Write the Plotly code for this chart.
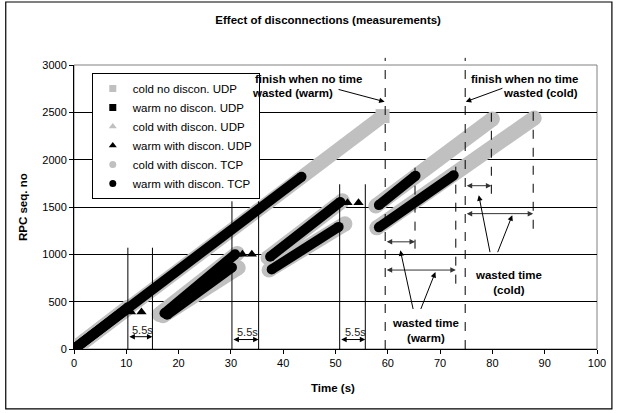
import plotly.graph_objects as go

FONT = "Arial, 'Liberation Sans', sans-serif"
GRAY = "#C0C0C0"
BLACK = "#000000"

# ---------------- data (time in s, RPC sequence number) ----------------
cold_nodis_udp_t = [0.0, 59.0]
cold_nodis_udp_v = [0, 2460]

warm_nodis_udp_t = [0.0, 43.5]
warm_nodis_udp_v = [0, 1820]

cold_dis_udp_t = [0.0, 10.3, None, 16.3, 31.2, None, 37.1, 51.3, None, 57.7, 80.0]
cold_dis_udp_v = [0, 440, None, 365, 1010, None, 965, 1565, None, 1510, 2430]

warm_dis_udp_t = [0.0, 10.3, None, 17.3, 30.8, None, 37.5, 50.9, None, 58.3, 65.3]
warm_dis_udp_v = [0, 440, None, 378, 1000, None, 975, 1553, None, 1520, 1830]

warm_dis_udp_retry_t = [10.9, 12.9, 31.2, 32.2, 34.0, 51.5, 52.3, 54.4]
warm_dis_udp_retry_v = [390, 390, 1000, 1000, 1000, 1545, 1545, 1545]

cold_dis_tcp_t = [0.0, 10.3, None, 17.0, 31.4, None, 37.3, 51.8, None, 57.9, 88.0]
cold_dis_tcp_v = [0, 430, None, 352, 858, None, 835, 1322, None, 1280, 2440]

warm_dis_tcp_t = [0.0, 10.3, None, 17.8, 30.2, None, 37.8, 50.6, None, 58.3, 72.6]
warm_dis_tcp_v = [0, 430, None, 362, 862, None, 841, 1290, None, 1285, 1835]

legend_names = ["cold no discon. UDP", "warm no discon. UDP", "cold with discon. UDP",
                "warm with discon. UDP", "cold with discon. TCP", "warm with discon. TCP"]
legend_colors = [GRAY, BLACK, GRAY, BLACK, GRAY, BLACK]
legend_symbols = ["square", "square", "triangle-up", "triangle-up", "circle", "circle"]

# disconnection periods (solid verticals) and their label
discon_start = [10.3, 30.2, 50.8]
discon_end = [15.0, 35.3, 55.7]
discon_top = [1070, 1560, 1740]
discon_label = "5.5s"
discon_arrow_v = [130, 100, 100]

# finish lines (no time wasted)
finish_warm = 59.5
finish_cold = 74.8
# actual finishes (dashed)
actual_warm_t = [65.2, 73.0]
actual_warm_top = [1940, 1940]
actual_warm_bot = [1060, 690]
actual_warm_arrow_v = [1132, 834]
actual_cold_t = [79.8, 87.8]
actual_cold_top = [2540, 2540]
actual_cold_bot = [1640, 1270]
actual_cold_arrow_v = [1725, 1430]

x_ticks = list(range(0, 101, 10))
y_ticks = list(range(0, 3001, 500))

fig = go.Figure()


def band(t, v, color, width, symbol):
    fig.add_trace(go.Scatter(
        x=t, y=v, mode="lines+markers", showlegend=False, hoverinfo="skip",
        line=dict(color=color, width=width),
        marker=dict(color=color, size=width, symbol=symbol, line=dict(width=0)),
    ))


# gray (cold) bands underneath
band(cold_nodis_udp_t, cold_nodis_udp_v, GRAY, 14, "square")
band(cold_dis_udp_t, cold_dis_udp_v, GRAY, 15, "circle")
band(cold_dis_tcp_t, cold_dis_tcp_v, GRAY, 15, "circle")
# black (warm) bands on top
band(warm_nodis_udp_t, warm_nodis_udp_v, BLACK, 10, "circle")
band(warm_dis_udp_t, warm_dis_udp_v, BLACK, 10, "circle")
band(warm_dis_tcp_t, warm_dis_tcp_v, BLACK, 10, "circle")
fig.add_trace(go.Scatter(
    x=warm_dis_udp_retry_t, y=warm_dis_udp_retry_v, mode="markers", showlegend=False,
    hoverinfo="skip", marker=dict(color=BLACK, size=9, symbol="triangle-up"),
))

# legend entries
for i, (n, c, s) in enumerate(zip(legend_names, legend_colors, legend_symbols)):
    fig.add_trace(go.Scatter(
        x=[None], y=[None], mode="markers", name=n, legendgroup=str(i),
        marker=dict(color=c, symbol=s, size=7),
    ))

shapes = []
annotations = []

# solid disconnection verticals + 5.5s arrows
for s, e, top, av in zip(discon_start, discon_end, discon_top, discon_arrow_v):
    for xx in (s, e):
        shapes.append(dict(type="line", xref="x", yref="y", x0=xx, x1=xx, y0=0, y1=top,
                           line=dict(color=BLACK, width=1)))
    annotations.append(dict(x=e, y=av, ax=s, ay=av, xref="x", yref="y", axref="x", ayref="y",
                            text="", showarrow=True, arrowhead=2, arrowside="end+start",
                            arrowsize=1.1, arrowwidth=1, arrowcolor=BLACK,
                            standoff=0, startstandoff=0))
    annotations.append(dict(x=(s + e) / 2 + 0.5, y=av + 75, xref="x", yref="y", text=discon_label,
                            showarrow=False, font=dict(size=11, color="#222222", family=FONT)))

# finish lines (dashed, reaching above plot)
for xx in (finish_warm, finish_cold):
    shapes.append(dict(type="line", xref="x", yref="paper", x0=xx, x1=xx, y0=0, y1=1.025,
                       line=dict(color=BLACK, width=1, dash="dash")))

for xx, top, bot, av in zip(actual_warm_t, actual_warm_top, actual_warm_bot, actual_warm_arrow_v):
    shapes.append(dict(type="line", xref="x", yref="y", x0=xx, x1=xx, y0=bot, y1=top,
                       line=dict(color=BLACK, width=1, dash="dash")))
    annotations.append(dict(x=xx, y=av, ax=finish_warm, ay=av, xref="x", yref="y", axref="x",
                            ayref="y", text="", showarrow=True, arrowhead=2, arrowside="end+start",
                            arrowsize=1.1, arrowwidth=1, arrowcolor="#333333",
                            standoff=0, startstandoff=0))
for xx, top, bot, av in zip(actual_cold_t, actual_cold_top, actual_cold_bot, actual_cold_arrow_v):
    shapes.append(dict(type="line", xref="x", yref="y", x0=xx, x1=xx, y0=bot, y1=top,
                       line=dict(color=BLACK, width=1, dash="dash")))
    annotations.append(dict(x=xx, y=av, ax=finish_cold, ay=av, xref="x", yref="y", axref="x",
                            ayref="y", text="", showarrow=True, arrowhead=2, arrowside="end+start",
                            arrowsize=1.1, arrowwidth=1, arrowcolor="#333333",
                            standoff=0, startstandoff=0))

bold = dict(size=11.5, color=BLACK, family=FONT)


def arrow(tail, tip):
    annotations.append(dict(x=tip[0], y=tip[1], ax=tail[0], ay=tail[1], xref="x", yref="y",
                            axref="x", ayref="y", text="", showarrow=True, arrowhead=2,
                            arrowsize=1.1, arrowwidth=1, arrowcolor=BLACK,
                            standoff=0, startstandoff=0))


# "finish when no time wasted" labels
annotations.append(dict(x=34.2, y=2852, xref="x", yref="y", xanchor="left", showarrow=False,
                        text="<b>finish when no time</b>", font=bold))
annotations.append(dict(x=49.9, y=2701, xref="x", yref="y", xanchor="right", showarrow=False,
                        text="<b>wasted (warm)</b>", font=bold))
arrow((50.3, 2746), (59.4, 2612))
annotations.append(dict(x=96.7, y=2852, xref="x", yref="y", xanchor="right", showarrow=False,
                        text="<b>finish when no time</b>", font=bold))
annotations.append(dict(x=96.7, y=2701, xref="x", yref="y", xanchor="right", showarrow=False,
                        text="<b>wasted (cold)</b>", font=bold))
arrow((82.2, 2760), (74.9, 2612))

# "wasted time" labels
annotations.append(dict(x=67.2, y=200, xref="x", yref="y", showarrow=False,
                        text="<b>wasted time</b><br><b>(warm)</b>", font=bold))
arrow((64.9, 407), (62.4, 1042))
arrow((66.2, 407), (69.1, 813))
annotations.append(dict(x=83.1, y=707, xref="x", yref="y", showarrow=False,
                        text="<b>wasted time</b><br><b>(cold)</b>", font=bold))
arrow((79.6, 1007), (77.4, 1624))
arrow((80.9, 1007), (83.8, 1413))

# axis titles
annotations.append(dict(x=-0.0975, y=0.5, xref="paper", yref="paper", textangle=-90,
                        xanchor="center", yanchor="middle",
                        showarrow=False, text="<b>RPC seq. no</b>", font=bold))
annotations.append(dict(x=0.495, y=-0.137, xref="paper", yref="paper", showarrow=False,
                        xanchor="center", yanchor="middle",
                        text="<b>Time (s)</b>", font=bold))

# plot-area frame (gray) and chart-area frame (black)
shapes.append(dict(type="rect", xref="paper", yref="paper", x0=0, x1=1, y0=0, y1=1,
                   line=dict(color="#808080", width=1), layer="below"))
shapes.append(dict(type="rect", xref="paper", yref="paper", x0=-0.1305, x1=1.0285,
                   y0=-0.2108, y1=1.2218, line=dict(color=BLACK, width=1.2)))

fig.update_layout(
    width=618, height=413,
    margin=dict(l=74, r=21, t=65, b=64),
    paper_bgcolor="white", plot_bgcolor="white",
    font=dict(family=FONT, size=11, color=BLACK),
    title=dict(text="<b>Effect of disconnections (measurements)</b>", xref="container",
               x=0.531, xanchor="center", y=0.952, yanchor="middle",
               font=dict(size=11.5, family=FONT, color=BLACK)),
    xaxis=dict(range=[0, 100], tickvals=x_ticks, showgrid=False, zeroline=False,
               showline=True, linecolor=BLACK, linewidth=1, ticks="outside", ticklen=4,
               tickcolor=BLACK, tickfont=dict(size=11, family=FONT)),
    yaxis=dict(range=[0, 3000], tickvals=y_ticks, showgrid=True, gridcolor=BLACK, gridwidth=1,
               zeroline=False, showline=True, linecolor=BLACK, linewidth=1, ticks="outside",
               ticklen=4, tickcolor=BLACK, tickfont=dict(size=11, family=FONT)),
    legend=dict(x=0.034, y=0.972, xanchor="left", yanchor="top", bgcolor="white",
                bordercolor=BLACK, borderwidth=1, font=dict(size=11.5, family=FONT),
                tracegroupgap=0, itemsizing="trace"),
    shapes=shapes, annotations=annotations,
)

fig.write_html("out.html")
